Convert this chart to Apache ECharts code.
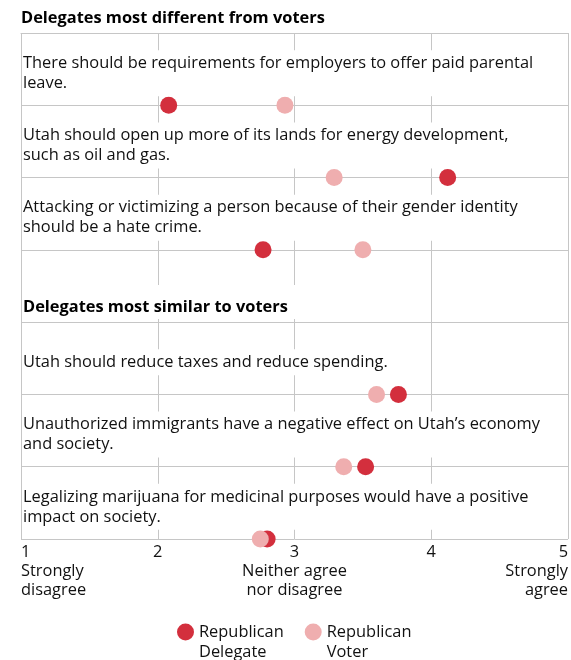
<!DOCTYPE html>
<html>
<head>
<meta charset="utf-8">
<script src="https://cdn.jsdelivr.net/npm/echarts@6/dist/echarts.min.js"></script>
<style>
  html, body { margin: 0; padding: 0; background: #fff; }
  #chart { width: 571px; height: 660px; }
</style>
</head>
<body>
<div id="chart"></div>
<script>
const sectionTitles = ['Delegates most different from voters', 'Delegates most similar to voters']

const questions = [
  'There should be requirements for employers to offer paid parental\nleave.',
  'Utah should open up more of its lands for energy development,\nsuch as oil and gas.',
  'Attacking or victimizing a person because of their gender identity\nshould be a hate crime.',
  'Utah should reduce taxes and reduce spending.',
  'Unauthorized immigrants have a negative effect on Utah\u2019s economy\nand society.',
  'Legalizing marijuana for medicinal purposes would have a positive\nimpact on society.'
]
// row of each question on the y scale (row 4 is the second section header)
const questionRows = [1, 2, 3, 5, 6, 7]

const delegateScores = [2.08, 4.12, 2.77, 3.76, 3.52, 2.80]
const voterScores = [2.93, 3.29, 3.50, 3.60, 3.36, 2.75]

const seriesNames = ['Republican\nDelegate', 'Republican\nVoter']
const tickLabels = ['1\nStrongly\ndisagree', '2', '3\nNeither agree\nnor disagree', '4', '5\nStrongly\nagree']

const font = '"Open Sans", "Noto Sans", sans-serif'
const fontSize = 16.4
const textColor = '#111'
const gridColor = '#c6c6c6'
const delegateColor = '#d32f3d'
const voterColor = '#efaeaf'

const chart = echarts.init(document.getElementById('chart'))

const titleStyle = { fontFamily: font, fontSize: fontSize, fontWeight: 'bold', color: '#000', lineHeight: 20 }

const option = {
  animation: false,
  backgroundColor: '#fff',
  textStyle: { fontFamily: font },
  title: [
    {
      text: sectionTitles[0],
      left: 21,
      top: 8,
      padding: 0,
      textStyle: titleStyle
    },
    {
      text: sectionTitles[1],
      left: 22,
      top: 285,
      padding: [12, 10, 2, 1],
      backgroundColor: '#fff',
      textStyle: titleStyle
    }
  ],
  legend: {
    left: 172,
    top: 597,
    icon: 'circle',
    itemWidth: 17,
    itemHeight: 17,
    itemGap: 21,
    data: seriesNames,
    // leading empty line keeps the first text line level with the marker
    formatter: (name) => '\n' + name,
    textStyle: {
      fontFamily: font,
      fontSize: fontSize,
      color: textColor,
      lineHeight: 20
    }
  },
  grid: {
    left: 21,
    right: 2,
    top: 33,
    bottom: 121
  },
  xAxis: {
    type: 'value',
    min: 1,
    max: 5,
    interval: 1,
    axisLine: { show: true, lineStyle: { color: gridColor } },
    axisTick: { show: false },
    splitLine: { show: true, lineStyle: { color: gridColor } },
    axisLabel: {
      showMinLabel: true,
      showMaxLabel: true,
      alignMinLabel: 'left',
      alignMaxLabel: 'right',
      margin: 4,
      color: textColor,
      fontFamily: font,
      fontSize: fontSize,
      lineHeight: 19,
      formatter: (v) => tickLabels[Math.round(v) - 1]
    }
  },
  yAxis: {
    type: 'value',
    inverse: true,
    min: 0,
    max: 7,
    interval: 1,
    axisLine: { show: false },
    axisTick: { show: false },
    axisLabel: { show: false },
    splitLine: { show: true, lineStyle: { color: gridColor } }
  },
  series: [
    {
      type: 'scatter',
      silent: true,
      symbolSize: 0,
      itemStyle: { color: '#fff' },
      data: questions.map((q, i) => ({ name: q, value: [1, questionRows[i] - 0.5] })),
      label: {
        show: true,
        position: 'right',
        distance: 1,
        offset: [0, 4],
        formatter: '{b}',
        color: textColor,
        opacity: 1,
        textBorderWidth: 0,
        fontFamily: font,
        fontSize: fontSize,
        lineHeight: 20,
        backgroundColor: '#fff',
        padding: [6, 8, 0, 1]
      }
    },
    {
      name: seriesNames[0],
      type: 'scatter',
      symbolSize: 17,
      itemStyle: { color: delegateColor, opacity: 1 },
      data: delegateScores.map((v, i) => [v, questionRows[i]])
    },
    {
      name: seriesNames[1],
      type: 'scatter',
      symbolSize: 17,
      itemStyle: { color: voterColor, opacity: 1 },
      data: voterScores.map((v, i) => [v, questionRows[i]])
    }
  ]
}

chart.setOption(option)
</script>
</body>
</html>
